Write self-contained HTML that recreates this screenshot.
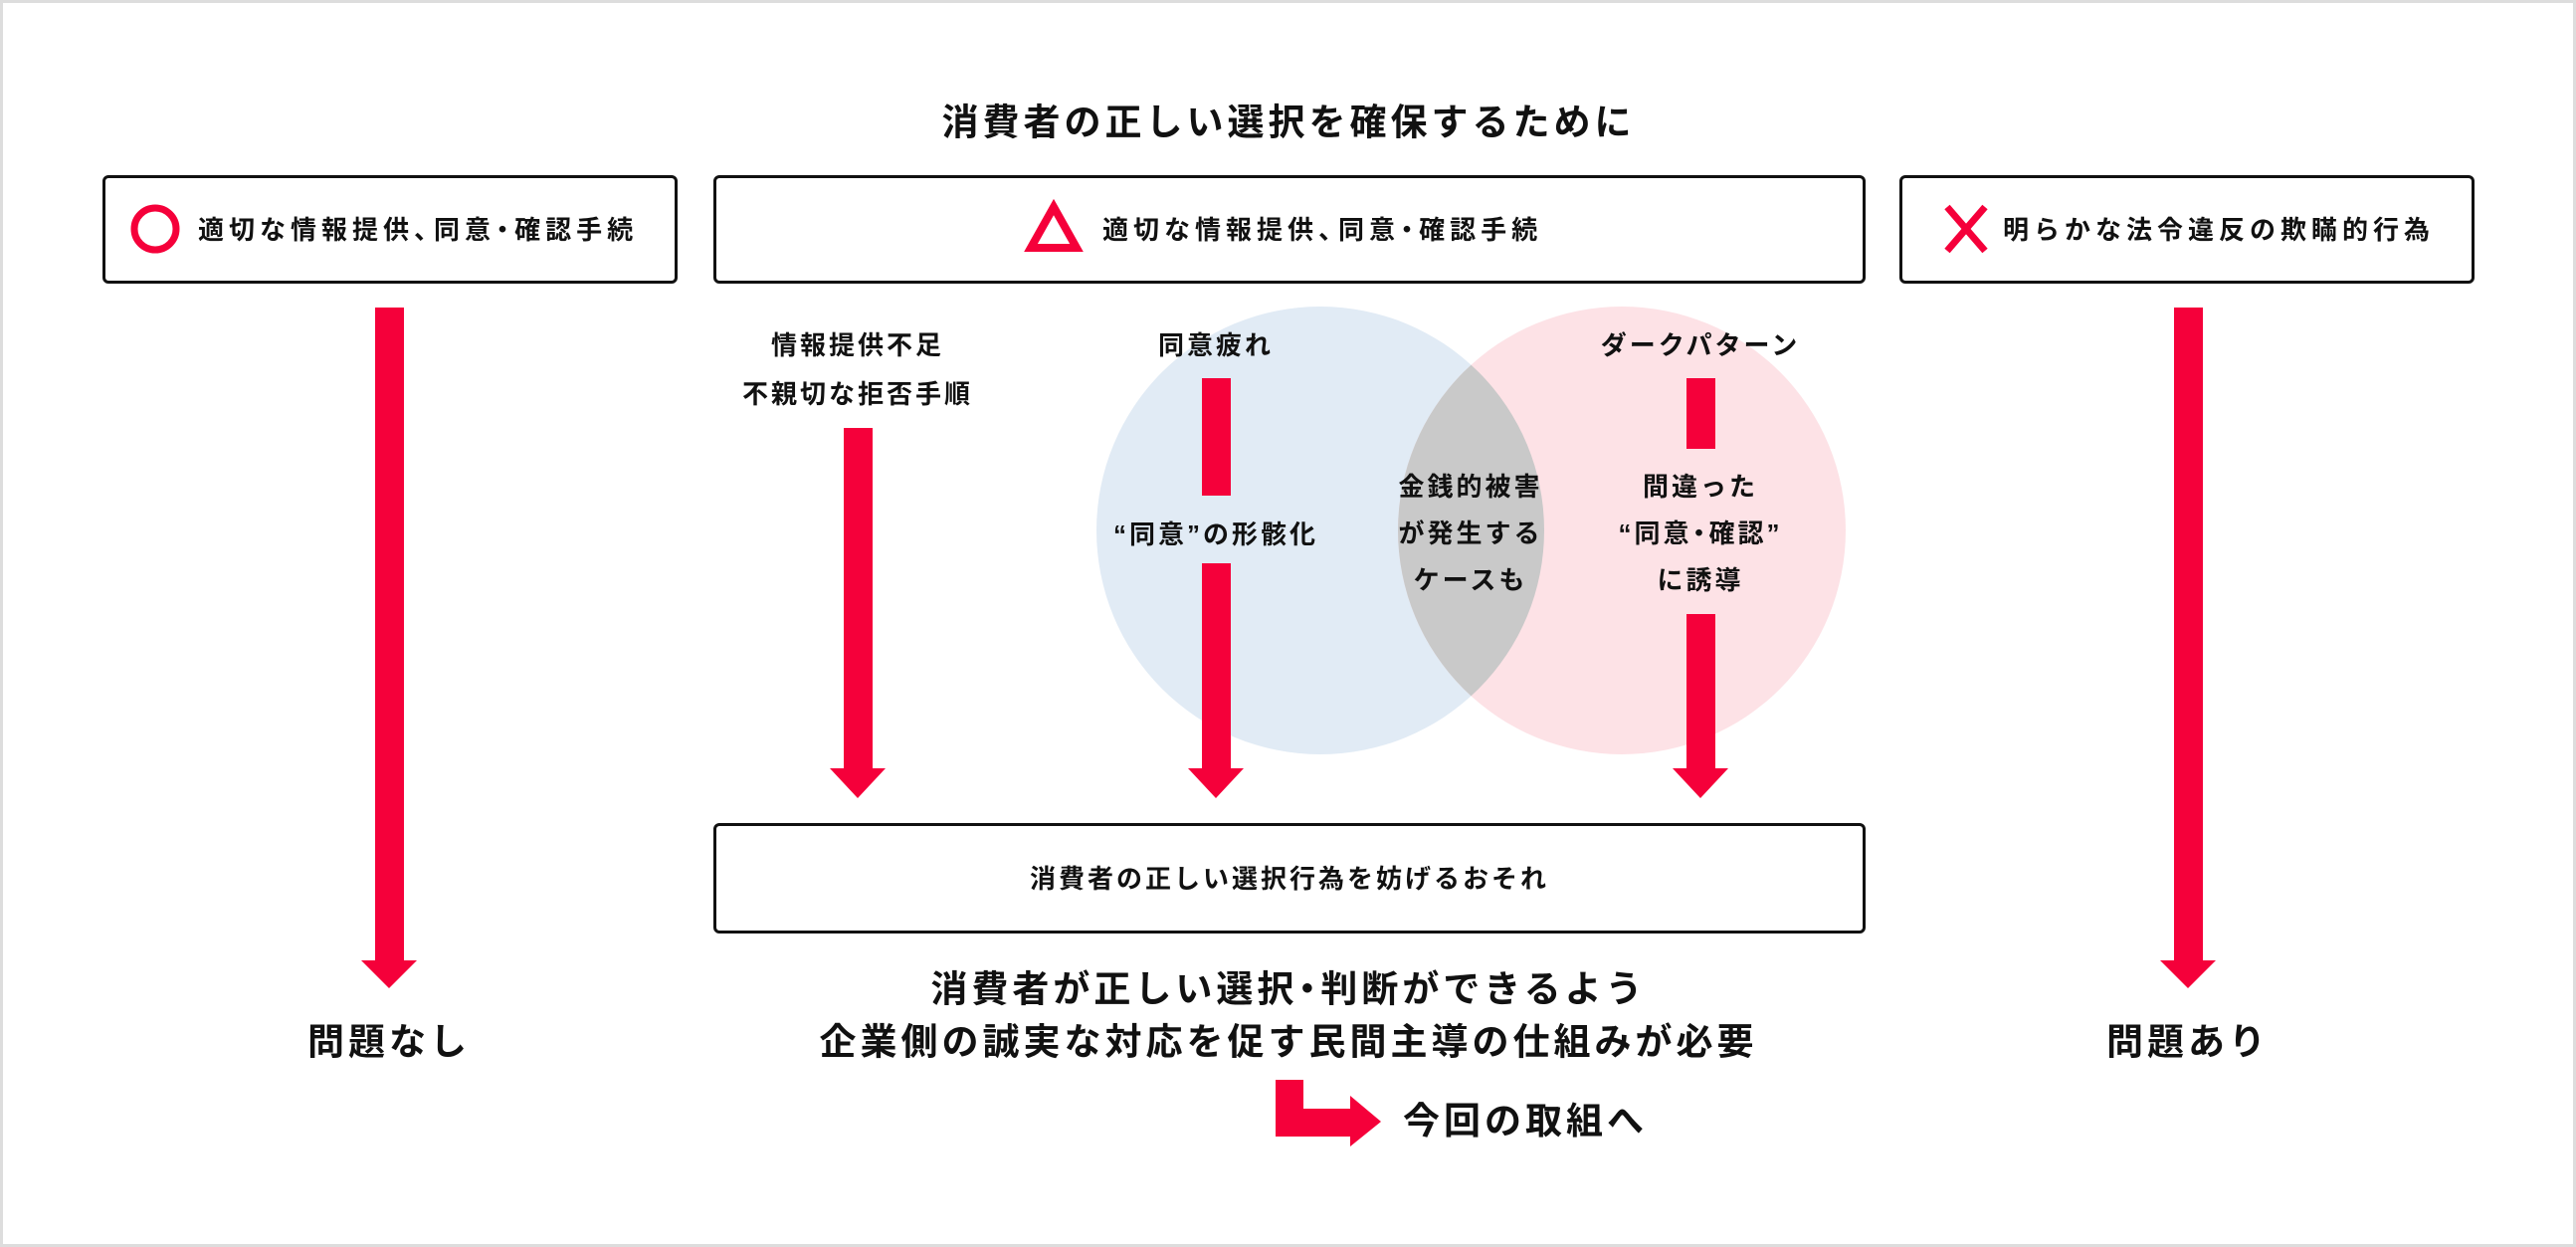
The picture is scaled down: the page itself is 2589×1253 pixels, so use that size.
<!DOCTYPE html>
<html><head><meta charset="utf-8"><style>
html,body{margin:0;padding:0;background:#fff;}
body{width:2589px;height:1253px;position:relative;overflow:hidden;font-family:"Liberation Sans","Noto Sans CJK JP",sans-serif;font-weight:700;color:#111;}
.t{position:absolute;transform:translate(-50%,-50%);white-space:nowrap;line-height:1;}
.s{font-size:26px;letter-spacing:3px;}
.b{font-size:37px;letter-spacing:4px;}
.box{position:absolute;border:3px solid #111;border-radius:6px;box-sizing:border-box;}
.bl{position:absolute;white-space:nowrap;line-height:1;font-size:26px;letter-spacing:5px;transform:translateY(-50%);}
.c{margin-right:-11px;}
.d{margin-left:-6px;margin-right:-6px;}
.db{margin-left:-9px;margin-right:-9px;}
</style></head><body>
<svg width="2589" height="1253" style="position:absolute;left:0;top:0">
<defs><clipPath id="cb"><circle cx="1327" cy="533" r="225"/></clipPath></defs>
<rect x="1.5" y="1.5" width="2586" height="1250" fill="none" stroke="#ddd" stroke-width="3"/>
<circle cx="1327" cy="533" r="225" fill="#e1ebf5"/>
<circle cx="1630" cy="533" r="225" fill="#fde2e6"/>
<circle cx="1630" cy="533" r="225" fill="#c9c9c9" clip-path="url(#cb)"/>
<g fill="#f5003a">
<rect x="377" y="309" width="29" height="660"/><polygon points="363,965 419,965 391,993"/>
<rect x="2185" y="309" width="29" height="660"/><polygon points="2171,965 2227,965 2199,993"/>
<rect x="848" y="430" width="29" height="346"/><polygon points="834,772 890,772 862,802"/>
<rect x="1208" y="380" width="29" height="118"/>
<rect x="1208" y="566" width="29" height="210"/><polygon points="1194,772 1250,772 1222,802"/>
<rect x="1695" y="380" width="29" height="71"/>
<rect x="1695" y="617" width="29" height="159"/><polygon points="1681,772 1737,772 1709,802"/>
<rect x="1282" y="1085" width="28" height="57"/><rect x="1282" y="1114" width="78" height="28"/>
<polygon points="1357,1101 1388,1127 1357,1152"/>
</g>
<circle cx="156" cy="230" r="21" fill="none" stroke="#f5003a" stroke-width="7"/>
<polygon points="1059,208 1082,249 1036,249" fill="none" stroke="#f5003a" stroke-width="8" stroke-linejoin="miter"/>
<g stroke="#f5003a" stroke-width="7"><line x1="1957" y1="208" x2="1995" y2="252"/><line x1="1995" y1="208" x2="1957" y2="252"/></g>
</svg>
<div class="t b" style="left:1295px;top:123px">消費者の正しい選択を確保するために</div>
<div class="box" style="left:103px;top:176px;width:578px;height:109px"></div>
<div class="bl" style="left:199px;top:231px">適切な情報提供<span class="c">、</span>同意<span class="d">・</span>確認手続</div>
<div class="box" style="left:717px;top:176px;width:1158px;height:109px"></div>
<div class="bl" style="left:1108px;top:231px">適切な情報提供<span class="c">、</span>同意<span class="d">・</span>確認手続</div>
<div class="box" style="left:1909px;top:176px;width:578px;height:109px"></div>
<div class="bl" style="left:2013px;top:231px">明らかな法令違反の欺瞞的行為</div>
<div class="t s" style="left:862px;top:347px">情報提供不足</div>
<div class="t s" style="left:862px;top:396px">不親切な拒否手順</div>
<div class="t s" style="left:1222px;top:347px">同意疲れ</div>
<div class="t s" style="left:1222px;top:537px">“同意”の形骸化</div>
<div class="t s" style="left:1478px;top:489px">金銭的被害</div>
<div class="t s" style="left:1478px;top:536px">が発生する</div>
<div class="t s" style="left:1478px;top:583px">ケースも</div>
<div class="t s" style="left:1709px;top:347px">ダークパターン</div>
<div class="t s" style="left:1709px;top:489px">間違った</div>
<div class="t s" style="left:1709px;top:536px">“同意<span class="d">・</span>確認”</div>
<div class="t s" style="left:1709px;top:583px">に誘導</div>
<div class="box" style="left:717px;top:827px;width:1158px;height:111px"></div>
<div class="t s" style="left:1296px;top:883px">消費者の正しい選択行為を妨げるおそれ</div>
<div class="t b" style="left:1295px;top:994px">消費者が正しい選択<span class="db">・</span>判断ができるよう</div>
<div class="t b" style="left:1295px;top:1047px">企業側の誠実な対応を促す民間主導の仕組みが必要</div>
<div class="t b" style="left:391px;top:1047px">問題なし</div>
<div class="t b" style="left:2199px;top:1047px">問題あり</div>
<div class="b" style="position:absolute;left:1410px;top:1108px;line-height:1;white-space:nowrap">今回の取組へ</div>
</body></html>
